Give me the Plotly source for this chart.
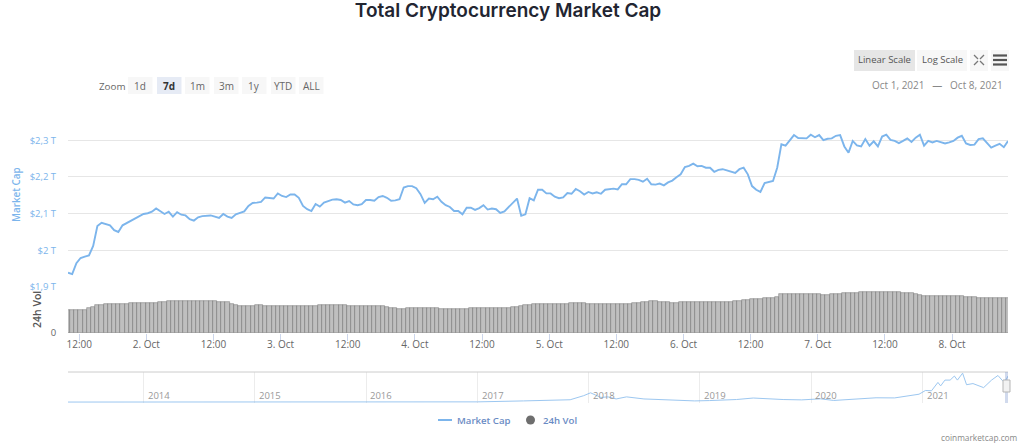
import pandas as pd
import plotly.graph_objects as go

START = "2021-10-01 10:00"
STEP = "45min"

market_cap_t = [
1.939,1.935,1.965,1.979,1.983,1.986,2.012,2.066,2.075,2.071,2.068,2.055,2.05,2.068,2.074,2.081,2.086,2.094,2.099,2.101,
2.105,2.114,2.107,2.099,2.105,2.092,2.104,2.097,2.095,2.085,2.081,2.09,2.093,2.093,2.095,2.092,2.088,2.099,2.092,2.088,
2.098,2.102,2.106,2.121,2.129,2.13,2.132,2.144,2.142,2.141,2.155,2.148,2.145,2.152,2.152,2.143,2.121,2.112,2.107,2.126,
2.119,2.13,2.134,2.138,2.139,2.137,2.13,2.134,2.125,2.123,2.126,2.137,2.137,2.135,2.145,2.148,2.143,2.135,2.136,2.139,
2.171,2.175,2.175,2.169,2.153,2.129,2.141,2.139,2.146,2.132,2.123,2.118,2.107,2.107,2.098,2.116,2.116,2.11,2.115,2.123,
2.111,2.114,2.112,2.102,2.106,2.117,2.13,2.141,2.094,2.098,2.142,2.136,2.165,2.165,2.155,2.155,2.146,2.142,2.144,2.156,
2.154,2.167,2.161,2.152,2.159,2.155,2.158,2.154,2.165,2.167,2.168,2.166,2.18,2.18,2.194,2.194,2.192,2.187,2.195,2.18,
2.179,2.182,2.177,2.185,2.19,2.199,2.207,2.227,2.23,2.236,2.229,2.23,2.225,2.225,2.214,2.219,2.221,2.218,2.214,2.211,
2.221,2.225,2.207,2.175,2.165,2.159,2.183,2.187,2.189,2.225,2.289,2.285,2.298,2.314,2.306,2.305,2.305,2.315,2.308,2.314,
2.3,2.304,2.305,2.312,2.314,2.283,2.266,2.298,2.286,2.283,2.303,2.285,2.297,2.283,2.31,2.315,2.301,2.298,2.292,2.298,
2.305,2.295,2.307,2.315,2.285,2.298,2.294,2.298,2.295,2.291,2.294,2.298,2.307,2.312,2.291,2.287,2.288,2.303,2.305,2.292,
2.28,2.285,2.29,2.281,2.298]

volume_b = [
68,68,69,69,70,74,78,83,85,86,87,87,88,88,88,89,89,90,90,90,91,91,92,93,95,96,96,
96,96,96,96,96,96,96,96,96,94,93,93,87,84,81,81,82,82,83,83,82,82,81,81,80,80,
81,81,81,82,82,82,82,83,84,84,84,84,83,83,82,82,81,81,81,81,81,81,80,79,
75,74,71,72,76,76,75,74,75,76,76,75,72,72,72,72,72,73,73,74,74,75,75,75,75,75,
76,76,76,77,78,82,83,85,86,86,86,86,88,88,88,88,88,89,90,90,89,87,
87,87,87,87,87,87,87,87,87,88,89,90,92,93,95,95,94,93,92,91,90,92,
92,92,92,92,92,92,92,92,92,92,93,93,95,96,98,100,101,102,103,104,105,106,108,
117,117,117,117,117,117,117,117,117,116,115,115,116,117,118,120,121,
121,121,122,122,122,123,123,123,122,122,122,122,121,121,121,118,114,111,
111,111,111,112,111,111,111,111,110,109,108,107,106,105,105,105,104,104,104,104]

x_tick_dates = ["2021-10-01 12:00","2021-10-02 00:00","2021-10-02 12:00","2021-10-03 00:00","2021-10-03 12:00",
                "2021-10-04 00:00","2021-10-04 12:00","2021-10-05 00:00","2021-10-05 12:00","2021-10-06 00:00",
                "2021-10-06 12:00","2021-10-07 00:00","2021-10-07 12:00","2021-10-08 00:00"]
x_tick_labels = ["12:00","2. Oct","12:00","3. Oct","12:00","4. Oct","12:00","5. Oct","12:00","6. Oct",
                 "12:00","7. Oct","12:00","8. Oct"]
y_tick_vals = [1.9,2.0,2.1,2.2,2.3,2.4]
y_tick_labels = ["$1,9 T","$2 T","$2,1 T","$2,2 T","$2,3 T",""]

nav_dates = ["2013-04-28","2014-01-01","2015-01-01","2016-01-01","2017-01-01","2017-06-01","2017-09-01","2017-11-01",
 "2017-12-15","2018-01-07","2018-02-10","2018-03-05","2018-04-01","2018-05-05","2018-07-01","2018-09-01","2018-11-01",
 "2018-12-15","2019-02-01","2019-05-01","2019-06-25","2019-08-01","2019-10-01","2019-12-01","2020-02-01","2020-03-15",
 "2020-06-01","2020-08-01","2020-10-01","2020-11-20","2020-12-20","2021-01-10","2021-01-30","2021-02-20","2021-03-01",
 "2021-03-15","2021-04-01","2021-04-15","2021-04-25","2021-05-12","2021-05-25","2021-06-15","2021-07-20","2021-08-15",
 "2021-09-05","2021-09-20","2021-10-01","2021-10-08"]
nav_values = [.002,.01,.005,.007,.018,.10,.15,.2,.55,.80,.4,.45,.27,.45,.27,.22,.2,.10,.13,.22,.35,.28,.22,.19,.28,.14,
 .26,.37,.36,.55,.68,1.0,.98,1.7,1.4,1.9,1.9,2.25,1.9,2.5,1.5,1.6,1.25,1.9,2.3,1.85,1.9,2.25]
nav_tick_dates = ["2014-01-01","2015-01-01","2016-01-01","2017-01-01","2018-01-01","2019-01-01","2020-01-01","2021-01-01"]
nav_tick_labels = ["2014","2015","2016","2017","2018","2019","2020","2021"]

range_buttons = ["1d","7d","1m","3m","1y","YTD","ALL"]
active_button = "7d"

W, H = 1024, 446
FONT = "Open Sans"
BLUE = "#7cb5ec"
GREY = "#666666"
px = lambda v: v / W
py = lambda v: 1 - v / H

times = pd.date_range(START, periods=len(market_cap_t), freq=STEP)
vol_times = pd.date_range(START, periods=len(volume_b), freq=STEP)

fig = go.Figure()
fig.add_trace(go.Bar(x=vol_times, y=volume_b, xaxis="x", yaxis="y2", name="24h Vol", showlegend=False,
                     marker=dict(color="#bfbfbf", line=dict(color="rgba(85,85,85,0.55)", width=0.7))))
fig.add_trace(go.Scatter(x=times, y=market_cap_t, xaxis="x", yaxis="y", mode="lines", name="Market Cap",
                         line=dict(color=BLUE, width=1.9), showlegend=False))
fig.add_trace(go.Scatter(x=nav_dates, y=nav_values, xaxis="x3", yaxis="y3", mode="lines", showlegend=False,
                         line=dict(color=BLUE, width=1), opacity=0.75))

shapes, ann = [], []
def box(x0, y0, x1, y1, fill, layer="below"):
    shapes.append(dict(type="rect", xref="paper", yref="paper", x0=px(x0), x1=px(x1), y0=py(y0), y1=py(y1),
                       fillcolor=fill, line=dict(width=0), layer=layer))
def seg(x0, y0, x1, y1, color, width=1):
    shapes.append(dict(type="line", xref="paper", yref="paper", x0=px(x0), x1=px(x1), y0=py(y0), y1=py(y1),
                       line=dict(color=color, width=width)))
def text(x, y, s, size=10, color=GREY, anchor="center", weight=None, **kw):
    f = dict(family=FONT, size=size, color=color)
    if weight:
        f["weight"] = weight
    ann.append(dict(xref="paper", yref="paper", x=px(x), y=py(y), text=s, showarrow=False, xanchor=anchor,
                    yanchor="middle", font=f, **kw))

# range selector
text(111.5, 86, "Zoom", 9.8, "#666666")
starts = [128, 157, 185, 214, 242, 271, 299]
for s, label in zip(starts, range_buttons):
    on = label == active_button
    box(s, 77, s + 24.5, 94, "#e6ebf5" if on else "#f7f7f7")
    text(s + 12.2, 86, f"<b>{label}</b>" if on else label, 10, "#333333" if on else "#666666")

# scale buttons and icons
box(854, 50, 915, 71, "#e6e6e6")
box(917, 50, 967, 71, "#f7f7f7")
box(970, 50, 988, 71, "#f7f7f7")
box(991, 50, 1009, 71, "#f7f7f7")
text(884.5, 60, "Linear Scale", 9.5, "#555555")
text(942, 60, "Log Scale", 9.5, "#555555")
for y in (55.5, 60, 64.5):
    seg(993, y, 1007, y, "#555555", 2.2)
for (a, b, c, d) in ((974, 55, 978, 59), (984, 55, 980, 59), (974, 65, 978, 61), (984, 65, 980, 61)):
    seg(a, b, c, d, "#777777", 1.2)
text(1005, 85, "Oct 1, 2021 &nbsp;&nbsp;—&nbsp;&nbsp; Oct 8, 2021", 10, "#888888", anchor="right")

# axis titles
text(16, 195, "Market Cap", 9.8, BLUE, weight=600, textangle=-90)
text(37, 310, "24h Vol", 10.5, "#555555", weight=600, textangle=-90)

# navigator decoration
for d, label in zip(nav_tick_dates, nav_tick_labels):
    ann.append(dict(xref="x3", yref="paper", x=d, y=py(395.5), text=label, showarrow=False, xanchor="left",
                    xshift=2, yanchor="middle", font=dict(family=FONT, size=9.5, color="#999999")))
seg(68, 372, 1008, 372, "#cccccc", 1)
box(1005, 372, 1008, 403, "rgba(102,133,194,0.3)", "above")
shapes.append(dict(type="rect", xref="paper", yref="paper", x0=px(1003), x1=px(1010), y0=py(380), y1=py(392),
                   fillcolor="#f2f2f2", line=dict(color="#b5b5b5", width=1), layer="above"))

# legend
seg(438, 420, 452, 420, BLUE, 2)
shapes.append(dict(type="circle", xref="paper", yref="paper", x0=px(526), x1=px(535), y0=py(424.5), y1=py(415.5),
                   fillcolor="#6e6e6e", line=dict(width=0)))
text(455, 420, "Market Cap", 9.6, "#6a8bc4", anchor="left", weight=600)
text(540.5, 420, "24h Vol", 9.6, "#6a8bc4", anchor="left", weight=600)

text(1020, 437, "coinmarketcap.com", 8.3, "#888888", anchor="right")

fig.update_layout(
    width=W, height=H, autosize=False, margin=dict(l=0, r=0, t=0, b=0),
    paper_bgcolor="white", plot_bgcolor="white", bargap=0, barmode="overlay",
    font=dict(family=FONT, color=GREY, size=10),
    title=dict(text="Total Cryptocurrency Market Cap", x=508 / W, xanchor="center", y=py(10), yanchor="middle",
               font=dict(family="Inter", size=19, color="#222531", weight=600)),
    shapes=shapes, annotations=ann,
    showlegend=False,
    xaxis=dict(domain=[px(68), px(1008)], anchor="y2", range=["2021-10-01 10:00", "2021-10-08 10:00"], type="date",
               tickmode="array", tickvals=x_tick_dates, ticktext=x_tick_labels, ticks="outside", ticklen=7,
               tickcolor="#ccd6eb", showgrid=False, showline=False, zeroline=False, ticklabelstandoff=-5,
               automargin=False, tickfont=dict(family=FONT, size=10, color="#666666")),
    yaxis=dict(domain=[py(287), py(103.5)], range=[1.9, 2.4], tickmode="array", tickvals=y_tick_vals,
               ticktext=y_tick_labels, gridcolor="#e6e6e6", gridwidth=1, ticks="outside", ticklen=9,
               tickcolor="rgba(0,0,0,0)", zeroline=False, showline=False, anchor="x", automargin=False,
               tickfont=dict(family=FONT, size=9.5, color=BLUE)),
    yaxis2=dict(domain=[py(333), py(287)], range=[0, 138], tickmode="array", tickvals=[0], ticktext=["0"],
                showgrid=False, zeroline=False, ticks="outside", ticklen=9, tickcolor="rgba(0,0,0,0)", anchor="x",
                automargin=False, tickfont=dict(family=FONT, size=9.5, color="#666666")),
    xaxis3=dict(domain=[px(68), px(1008)], anchor="y3", range=["2013-04-28", "2021-10-08"], type="date",
                tickmode="array", tickvals=nav_tick_dates, ticktext=[""] * len(nav_tick_dates), ticks="",
                automargin=False, showgrid=True, gridcolor="#ececec", zeroline=False, showline=False),
    yaxis3=dict(domain=[py(403), py(372)], range=[-0.08, 2.6], visible=False, anchor="x3", automargin=False),
)

fig.write_html("out.html", post_script="document.body.style.margin='0';", config={"displayModeBar": False})
